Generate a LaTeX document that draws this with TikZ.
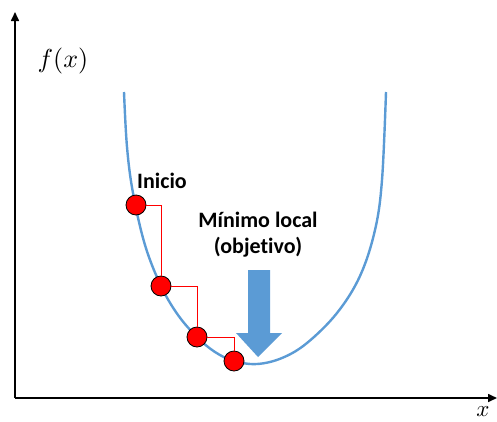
\documentclass[tikz,border=0pt]{standalone}
\usepackage{fontspec}
\newfontfamily\carlito[Ligatures=NoCommon]{Carlito}
\usetikzlibrary{arrows.meta}
\definecolor{mblue}{HTML}{5B9BD5}
\begin{document}
\begin{tikzpicture}[x=1pt,y=-1pt,
  axis/.style={line width=1.6pt,-{Triangle[length=9pt,width=8pt]}},
  ball/.style={circle,fill=red,draw=black,line width=0.8pt,minimum size=20pt,inner sep=0pt},
  step line/.style={red,line width=1pt},
  lbl/.style={font=\carlito\bfseries\fontsize{22}{26}\selectfont,align=center,inner sep=0pt}]
\useasboundingbox (0,0) rectangle (497,421);
\coordinate (o) at (15,398);
\coordinate (ytip) at (15,12);
\coordinate (xtip) at (497,398);
\draw[axis] (o) -- (ytip);
\draw[axis] (o) -- (xtip);
\node[scale=2.6] (fx) at (63,61) {$f(x)$};
\node[scale=2.3] (xl) at (483,412) {$x$};
\draw[mblue,line width=2.4pt] plot[smooth,tension=0.6] coordinates {
 (124,92) (127,147) (133,193) (145,245) (161,286) (178,315) (197,337) (215,352)
 (234,361) (257,364) (282,358) (307,343) (337,313) (360,276) (375,230) (382,180) (386,92)};
\fill[mblue] (248,270) -- (270,270) -- (270,333) -- (282,333) -- (258,357) -- (236,333) -- (248,333) -- cycle;
\node[ball] (b1) at (136,205) {};
\node[ball] (b2) at (161,286) {};
\node[ball] (b3) at (197,337) {};
\node[ball] (b4) at (234,361) {};
\draw[step line] (b1.east) -| (b2.north);
\draw[step line] (b2.east) -| (b3.north);
\draw[step line] (b3.east) -| (b4.north);
\node[lbl] (ini) at (162,181) {Inicio};
\node[lbl] (min) at (258,235) {Mínimo local\\(objetivo)};
\end{tikzpicture}
\end{document}
